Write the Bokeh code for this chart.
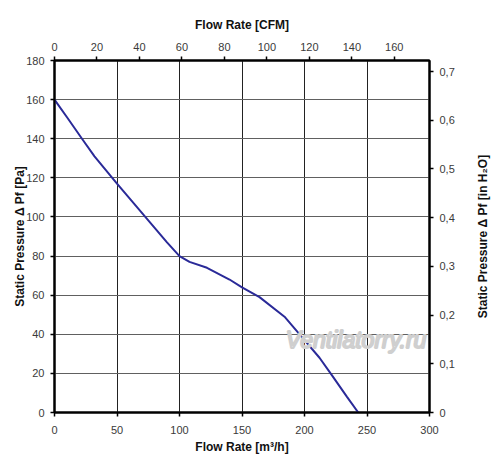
import math
from bokeh.plotting import figure
from bokeh.layouts import row
from bokeh.models import Range1d, LinearAxis, FixedTicker, CustomJSTickFormatter, Label, Grid
from bokeh.embed import file_html
from bokeh.resources import INLINE

# Data
flow_m3h = [0, 10, 22, 32, 50, 74, 90, 100, 108, 122, 140, 150, 164, 184, 200, 212, 222, 234, 243]
pressure_pa = [160, 151, 140, 131, 117, 99, 87, 80, 77, 74, 68, 64, 59, 49, 37, 28, 19, 8, 0]

x_ticks = [0, 50, 100, 150, 200, 250, 300]
y_ticks = [0, 20, 40, 60, 80, 100, 120, 140, 160, 180]
cfm_ticks = [0, 20, 40, 60, 80, 100, 120, 140, 160]
inh2o_ticks = [0, 0.1, 0.2, 0.3, 0.4, 0.5, 0.6, 0.7]

M3H_PER_CFM = 1.699
PA_PER_INH2O = 249.09
X_MAX = 300
Y_MAX = 180

FONT = "Liberation Sans"

p = figure(frame_width=375, frame_height=352,
           min_border_left=54, min_border_right=40, min_border_top=60, min_border_bottom=45,
           x_range=Range1d(0, X_MAX), y_range=Range1d(0, Y_MAX),
           output_backend="svg", toolbar_location=None,
           x_axis_location=None, y_axis_location=None)

p.extra_x_ranges = {"cfm": Range1d(0, X_MAX / M3H_PER_CFM)}
p.extra_y_ranges = {"inh2o": Range1d(0, Y_MAX / PA_PER_INH2O)}

p.outline_line_color = "black"
p.outline_line_width = 2
p.background_fill_color = "white"
p.border_fill_color = "white"

def style(ax):
    ax.axis_line_color = "black"
    ax.axis_line_width = 2
    ax.major_tick_in = 0
    ax.major_tick_out = 4
    ax.major_tick_line_color = "black"
    ax.major_tick_line_width = 1.5
    ax.minor_tick_line_color = None
    ax.major_label_text_font = FONT
    ax.major_label_text_font_size = "11px"
    ax.major_label_text_color = "#3a3a3a"
    ax.axis_label_text_font = FONT
    ax.axis_label_text_font_size = "12px"
    ax.axis_label_text_font_style = "bold"
    ax.axis_label_text_color = "#111111"

bottom = LinearAxis(ticker=FixedTicker(ticks=x_ticks), axis_label="Flow Rate [m³/h]")
style(bottom)
bottom.major_label_standoff = 9
bottom.axis_label_standoff = 3
p.add_layout(bottom, "below")

top = LinearAxis(x_range_name="cfm", ticker=FixedTicker(ticks=cfm_ticks), axis_label="Flow Rate [CFM]")
style(top)
top.major_label_standoff = 6
top.axis_label_standoff = 8
p.add_layout(top, "above")

left = LinearAxis(ticker=FixedTicker(ticks=y_ticks), axis_label="Static Pressure Δ Pf [Pa]")
style(left)
left.major_label_standoff = 6
left.axis_label_standoff = -4
p.add_layout(left, "left")

right = LinearAxis(y_range_name="inh2o", ticker=FixedTicker(ticks=inh2o_ticks),
                   formatter=CustomJSTickFormatter(code="return tick == 0 ? '0' : tick.toFixed(1).replace('.', ',');"))
style(right)
right.major_label_standoff = 6
p.add_layout(right, "right")

p.xgrid.visible = False
p.ygrid.visible = False
vg = Grid(dimension=0, ticker=FixedTicker(ticks=x_ticks), grid_line_color="#222222", grid_line_width=1)
hg = Grid(dimension=1, ticker=FixedTicker(ticks=y_ticks), grid_line_color="#606060", grid_line_width=1)
p.add_layout(vg)
p.add_layout(hg)

p.line(flow_m3h, pressure_pa, line_color="#2a2a98", line_width=2)

wm = Label(x=185, y=37, text="Ventilatorry.ru", text_font=FONT, text_font_style="italic",
           text_font_size="23px", text_color="#ececec", text_baseline="middle",
           text_outline_color="#cfcfcf")
p.add_layout(wm)

# narrow side panel carrying the right-hand title, reading bottom-to-top
side = figure(frame_width=26, frame_height=352,
              min_border_left=0, min_border_right=0, min_border_top=60, min_border_bottom=45,
              x_range=Range1d(0, 1), y_range=Range1d(0, 1),
              output_backend="svg", toolbar_location=None,
              x_axis_location=None, y_axis_location=None)
side.outline_line_color = None
side.background_fill_color = "white"
side.border_fill_color = "white"
side.grid.visible = False
side.add_layout(Label(x=0.5, y=0.5, text="Static Pressure Δ Pf [in H₂O]", angle=math.pi / 2,
                      text_align="center", text_baseline="middle",
                      text_font=FONT, text_font_size="12px", text_font_style="bold",
                      text_color="#111111"))

layout = row(p, side)
open("out.html", "w").write(file_html(layout, INLINE))
